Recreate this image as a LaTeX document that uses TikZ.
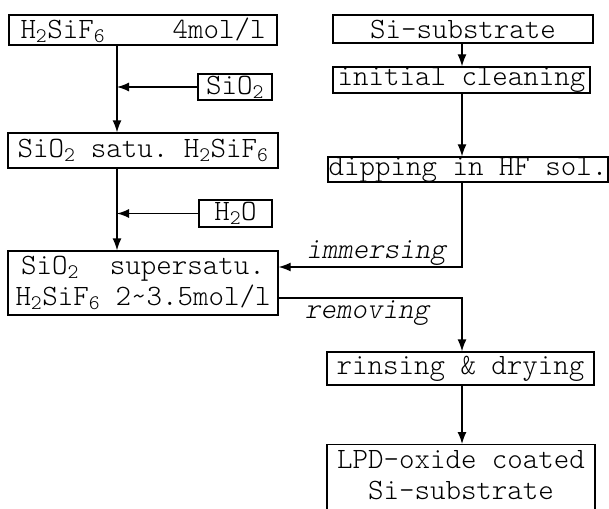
\documentclass[tikz,border=0pt]{standalone}
\usepackage{fontspec}
\setmonofont{Latin Modern Mono Light}
\usetikzlibrary{arrows.meta}

\begin{document}
\begin{tikzpicture}[
  x=1pt,y=-1pt,
  every node/.style={font=\ttfamily\fontsize{29.5}{31}\selectfont},
  blk/.style={draw,line width=1.3pt,inner sep=0pt,align=center},
  lbl/.style={inner sep=0pt,font=\ttfamily\itshape\fontsize{29.5}{31}\selectfont},
  ln/.style={line width=1.3pt},
  arr/.style={ln,-{Latex[length=12pt,width=9pt]}}]
\useasboundingbox (0,0) rectangle (609,508);

% ---- left column: the solution ----
\coordinate (lx) at (117,0);
\node[blk,minimum width=268pt,minimum height=30pt] (acid) at (143,30)
  {\makebox[245pt]{H\textsubscript{2}SiF\textsubscript{6}\hfill 4mol/l}};
\node[blk,minimum width=74pt,minimum height=26pt] (sio) at (235,87)
  {SiO\textsubscript{2}};
\node[blk,minimum width=270pt,minimum height=35pt] (satu) at (143,150.5)
  {SiO\textsubscript{2} satu. H\textsubscript{2}SiF\textsubscript{6}};
\node[blk,minimum width=73pt,minimum height=27pt] (water) at (235.5,213.5)
  {H\textsubscript{2}O};
\node[blk,minimum width=270pt,minimum height=64pt] (super) at (143,283)
  {SiO\textsubscript{2}\ \ supersatu.\\H\textsubscript{2}SiF\textsubscript{6} 2\textasciitilde3.5mol/l};
\draw[arr] (acid.south -| lx) -- (satu.north -| lx);
\draw[arr] (satu.south -| lx) -- (super.north -| lx);
\draw[arr] (sio.west) -- (sio.west -| lx);
\draw[arr] (water.west) -- (water.west -| lx);

% ---- right column: the substrate ----
\coordinate (rx) at (462,0);
\node[blk,minimum width=260pt,minimum height=28pt] (si) at (463,29)
  {Si-substrate};
\node[blk,minimum width=257pt,minimum height=26pt] (clean) at (461.5,80)
  {initial cleaning};
\node[blk,minimum width=280pt,minimum height=25pt] (dip) at (468,169.5)
  {dipping in HF sol.};
\node[blk,minimum width=267pt,minimum height=33pt] (rinse) at (460.5,368.5)
  {rinsing \& drying};
\node[blk,minimum width=268pt,inner ysep=6pt,text depth=22pt,anchor=north] (lpd) at (461,444)
  {LPD-oxide coated\\Si-substrate};
\draw[arr] (si.south -| rx) -- (clean.north -| rx);
\draw[arr] (clean.south -| rx) -- (dip.north -| rx);
\draw[arr] (dip.south -| rx) |- ([yshift=16pt]super.east);
\draw[arr] ([yshift=-15pt]super.east) -| (rinse.north -| rx);
\draw[arr] (rinse.south -| rx) -- (lpd.north -| rx);

\node[lbl,anchor=base east] (imm) at (446,258) {immersing};
\node[lbl,anchor=base west] (rem) at (305,318) {removing};
\end{tikzpicture}
\end{document}
